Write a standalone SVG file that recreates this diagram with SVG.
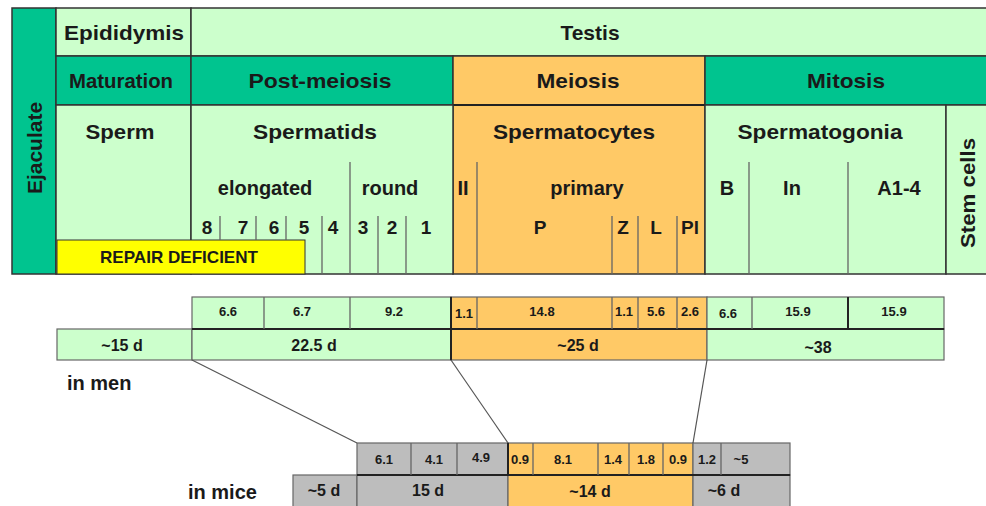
<svg xmlns="http://www.w3.org/2000/svg" width="986" height="506" viewBox="0 0 986 506">
<style>
text{font-family:"Liberation Sans",Arial,sans-serif;font-weight:bold;fill:#1a1a1a;text-anchor:middle}
.h{font-size:21px}
.s{font-size:20px}
.n{font-size:19px}
.r{font-size:17px}
.v1{font-size:13px}
.v2{font-size:16px}
.lab{font-size:20px;text-anchor:start}
.teal{fill:#00C48F;stroke:#333;stroke-width:1.5}
.lg{fill:#CCFFCC;stroke:#333;stroke-width:1.5}
.or{fill:#FFC966;stroke:#333;stroke-width:1.5}
.ye{fill:#FFFF00;stroke:#333;stroke-width:1}
.bl{fill:#CCFFCC;stroke:#666;stroke-width:1.2}
.bo{fill:#FFC966;stroke:#666;stroke-width:1.2}
.bg{fill:#BDBDBD;stroke:#666;stroke-width:1.2}
.tk{stroke:#666;stroke-width:1.3;fill:none}
.sep{stroke:#222;stroke-width:2;fill:none}
.cn{stroke:#555;stroke-width:1.2;fill:none}
</style>

<g id="table">
  <g id="ejaculate"><rect class="teal" x="12" y="8" width="44" height="266"/><text class="h" transform="translate(42,148) rotate(-90)">Ejaculate</text></g>
  <g id="epididymis"><rect class="lg" x="56" y="8" width="135" height="48"/><text class="h" x="124" y="40" textLength="120" lengthAdjust="spacingAndGlyphs">Epididymis</text></g>
  <g id="testis"><rect class="lg" x="191" y="8" width="800" height="48"/><text class="h" x="590" y="40">Testis</text></g>
  <g id="maturation"><rect class="teal" x="56" y="56" width="135" height="49"/><text class="h" x="121" y="88" textLength="104" lengthAdjust="spacingAndGlyphs">Maturation</text></g>
  <g id="postmeiosis"><rect class="teal" x="191" y="56" width="262" height="49"/><text class="h" x="320" y="88" textLength="143" lengthAdjust="spacingAndGlyphs">Post-meiosis</text></g>
  <g id="meiosis"><rect class="or" x="453" y="56" width="252" height="218"/><text class="h" x="578" y="88" textLength="83" lengthAdjust="spacingAndGlyphs">Meiosis</text></g>
  <g id="mitosis"><rect class="teal" x="705" y="56" width="286" height="49"/><text class="h" x="846" y="88" textLength="78" lengthAdjust="spacingAndGlyphs">Mitosis</text></g>
  <g id="meiosis-line"><line class="sep" x1="453" y1="105" x2="705" y2="105"/></g>
  <g id="sperm"><rect class="lg" x="56" y="105" width="135" height="169"/><text class="h" x="120" y="139" textLength="69" lengthAdjust="spacingAndGlyphs">Sperm</text></g>
  <g id="spermatids"><rect class="lg" x="191" y="105" width="262" height="169"/><text class="h" x="315" y="139" textLength="124" lengthAdjust="spacingAndGlyphs">Spermatids</text></g>
  <g id="spermatocytes"><text class="h" x="574" y="139" textLength="162" lengthAdjust="spacingAndGlyphs">Spermatocytes</text></g>
  <g id="spermatogonia"><rect class="lg" x="705" y="105" width="241" height="169"/><text class="h" x="820" y="139" textLength="165" lengthAdjust="spacingAndGlyphs">Spermatogonia</text></g>
  <g id="stemcells"><rect class="lg" x="946" y="105" width="45" height="169"/><text class="h" transform="translate(975,193) rotate(-90)" textLength="110" lengthAdjust="spacingAndGlyphs">Stem cells</text></g>
  <g id="repair"><rect class="ye" x="57" y="240" width="248" height="34"/><text class="r" x="179" y="263" textLength="158" lengthAdjust="spacingAndGlyphs">REPAIR DEFICIENT</text></g>

  <g id="sublabels">
    <text class="s" x="265" y="195">elongated</text>
    <text class="s" x="390" y="195">round</text>
    <text class="s" x="463" y="195">II</text>
    <text class="s" x="587" y="195">primary</text>
    <text class="s" x="727" y="195">B</text>
    <text class="s" x="792" y="195">In</text>
    <text class="s" x="899" y="195">A1-4</text>
  </g>
  <g id="stages">
    <text class="n" x="207" y="234">8</text>
    <text class="n" x="243" y="234">7</text>
    <text class="n" x="274" y="234">6</text>
    <text class="n" x="304" y="234">5</text>
    <text class="n" x="333" y="234">4</text>
    <text class="n" x="363" y="234">3</text>
    <text class="n" x="392" y="234">2</text>
    <text class="n" x="426" y="234">1</text>
    <text class="n" x="540" y="234">P</text>
    <text class="n" x="623" y="234">Z</text>
    <text class="n" x="656" y="234">L</text>
    <text class="n" x="690" y="234">Pl</text>
  </g>
  <g id="ticks">
    <path class="tk" d="M220 216V240M256 216V240M286 216V240M322 216V274M350 162V274M378 216V274M406 216V274M477 162V274M612 216V274M638 216V274M677 216V274M749 162V274M848 162V274"/>
  </g>
</g>

<g id="men">
  <rect class="bl" x="192" y="297" width="259" height="32"/>
  <rect class="bo" x="451" y="297" width="256" height="32"/>
  <rect class="bl" x="707" y="297" width="237" height="32"/>
  <rect class="bl" x="57" y="329" width="135" height="31"/>
  <rect class="bl" x="192" y="329" width="259" height="31"/>
  <rect class="bo" x="451" y="329" width="256" height="31"/>
  <rect class="bl" x="707" y="329" width="237" height="31"/>
  <path class="sep" d="M192 329H944"/>
  <path class="tk" d="M264 297V329M350 297V329M477 297V329M612 297V329M638 297V329M677 297V329M752 297V329"/>
  <path class="sep" d="M451 297V360M848 297V329"/>
  <g class="v1">
    <text class="v1" x="228" y="316">6.6</text>
    <text class="v1" x="302" y="316">6.7</text>
    <text class="v1" x="394" y="316">9.2</text>
    <text class="v1" x="464" y="318">1.1</text>
    <text class="v1" x="542" y="316">14.8</text>
    <text class="v1" x="624" y="316">1.1</text>
    <text class="v1" x="656" y="316">5.6</text>
    <text class="v1" x="690" y="316">2.6</text>
    <text class="v1" x="728" y="318">6.6</text>
    <text class="v1" x="798" y="316">15.9</text>
    <text class="v1" x="894" y="316">15.9</text>
  </g>
  <text class="v2" x="122" y="351">~15 d</text>
  <text class="v2" x="314" y="351">22.5 d</text>
  <text class="v2" x="578" y="351">~25 d</text>
  <text class="v2" x="818" y="353">~38</text>
  <text class="lab" x="67" y="390">in men</text>
</g>

<g id="mice">
  <rect class="bg" x="357" y="443" width="151" height="32"/>
  <rect class="bo" x="508" y="443" width="185" height="32"/>
  <rect class="bg" x="693" y="443" width="97" height="32"/>
  <rect class="bg" x="293" y="475" width="64" height="33"/>
  <rect class="bg" x="357" y="475" width="151" height="33"/>
  <rect class="bo" x="508" y="475" width="185" height="33"/>
  <rect class="bg" x="693" y="475" width="97" height="33"/>
  <path class="sep" d="M357 475H790M508 443V475"/>
  <path class="tk" d="M411 443V475M457 443V475M533 443V475M598 443V475M629 443V475M663 443V475M721 443V475"/>
  <text class="v1" x="384" y="464">6.1</text>
  <text class="v1" x="434" y="464">4.1</text>
  <text class="v1" x="481" y="462">4.9</text>
  <text class="v1" x="520" y="464">0.9</text>
  <text class="v1" x="563" y="464">8.1</text>
  <text class="v1" x="613" y="464">1.4</text>
  <text class="v1" x="646" y="464">1.8</text>
  <text class="v1" x="678" y="464">0.9</text>
  <text class="v1" x="707" y="464">1.2</text>
  <text class="v1" x="741" y="464">~5</text>
  <text class="v2" x="324" y="496">~5 d</text>
  <text class="v2" x="428" y="496">15 d</text>
  <text class="v2" x="590" y="497">~14 d</text>
  <text class="v2" x="724" y="496">~6 d</text>
  <text class="lab" x="188" y="499">in mice</text>
</g>

<g id="connectors">
  <line class="cn" x1="192" y1="360" x2="357" y2="443"/>
  <line class="cn" x1="451" y1="360" x2="508" y2="443"/>
  <line class="cn" x1="707" y1="360" x2="693" y2="443"/>
</g>
</svg>
